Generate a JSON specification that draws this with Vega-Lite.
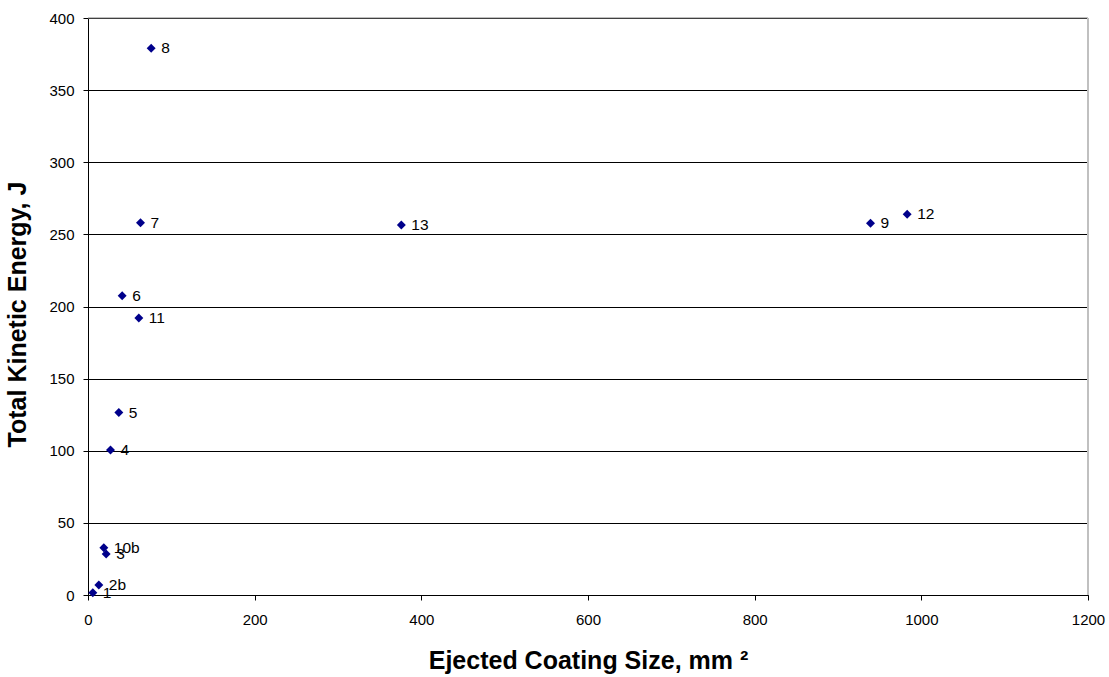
{
  "$schema": "https://vega.github.io/schema/vega-lite/v6.json",
  "autosize": {"type": "none"},
  "width": 1000,
  "height": 577,
  "padding": {"left": 88, "top": 18, "right": 21, "bottom": 82},
  "background": "white",
  "config": {
    "font": "Liberation Sans",
    "view": {"stroke": null}
  },
  "data": {
    "values": [
      {"size": 5.8, "energy": 1.6, "label": "1"},
      {"size": 13, "energy": 6.9, "label": "2b"},
      {"size": 19, "energy": 32.8, "label": "10b"},
      {"size": 21.8, "energy": 28.4, "label": "3"},
      {"size": 27, "energy": 100.5, "label": "4"},
      {"size": 37, "energy": 126.5, "label": "5"},
      {"size": 41, "energy": 207.5, "label": "6"},
      {"size": 61, "energy": 192, "label": "11"},
      {"size": 63, "energy": 258, "label": "7"},
      {"size": 75.8, "energy": 379, "label": "8"},
      {"size": 376, "energy": 256.5, "label": "13"},
      {"size": 939, "energy": 257.7, "label": "9"},
      {"size": 983, "energy": 264, "label": "12"}
    ]
  },
  "layer": [
    {
      "mark": {"type": "rule", "color": "#808080", "strokeWidth": 1},
      "data": {"values": [{"y": 400}]},
      "encoding": {"y": {"field": "y", "type": "quantitative", "scale": {"domain": [0, 400]}}}
    },
    {
      "mark": {"type": "rule", "color": "#c0c0c0", "strokeWidth": 2},
      "data": {"values": [{"x": 1200}]},
      "encoding": {"x": {"field": "x", "type": "quantitative", "scale": {"domain": [0, 1200]}}}
    },
    {
      "mark": {"type": "point", "shape": "diamond", "filled": true, "color": "#00008B", "size": 80, "opacity": 1},
      "encoding": {
        "x": {
          "field": "size", "type": "quantitative",
          "scale": {"domain": [0, 1200], "nice": false},
          "axis": {
            "values": [0, 200, 400, 600, 800, 1000, 1200],
            "format": "d",
            "labelFlush": false,
            "title": "Ejected Coating Size, mm   ²",
            "titleFont": "Liberation Sans", "titleFontSize": 25, "titleFontWeight": "bold", "titleColor": "black",
            "titlePadding": 21,
            "labelFont": "Liberation Sans", "labelFontSize": 15, "labelColor": "black", "labelPadding": 12,
            "domainColor": "black", "tickColor": "black", "tickSize": 5,
            "grid": false
          }
        },
        "y": {
          "field": "energy", "type": "quantitative",
          "scale": {"domain": [0, 400], "nice": false},
          "axis": {
            "values": [0, 50, 100, 150, 200, 250, 300, 350, 400],
            "labelFlush": false,
            "title": "Total Kinetic Energy, J",
            "titleY": 296,
            "titleFont": "Liberation Sans", "titleFontSize": 25, "titleFontWeight": "bold", "titleColor": "black",
            "titlePadding": 18,
            "labelFont": "Liberation Sans", "labelFontSize": 15, "labelColor": "black", "labelPadding": 9,
            "domainColor": "black", "tickColor": "black", "tickSize": 5,
            "grid": true, "gridColor": "black", "gridWidth": 1
          }
        }
      }
    },
    {
      "mark": {"type": "text", "align": "left", "baseline": "middle", "dx": 10, "dy": 0, "fontSize": 15.5, "font": "Liberation Sans", "color": "black"},
      "encoding": {
        "x": {"field": "size", "type": "quantitative"},
        "y": {"field": "energy", "type": "quantitative"},
        "text": {"field": "label"}
      }
    }
  ]
}
